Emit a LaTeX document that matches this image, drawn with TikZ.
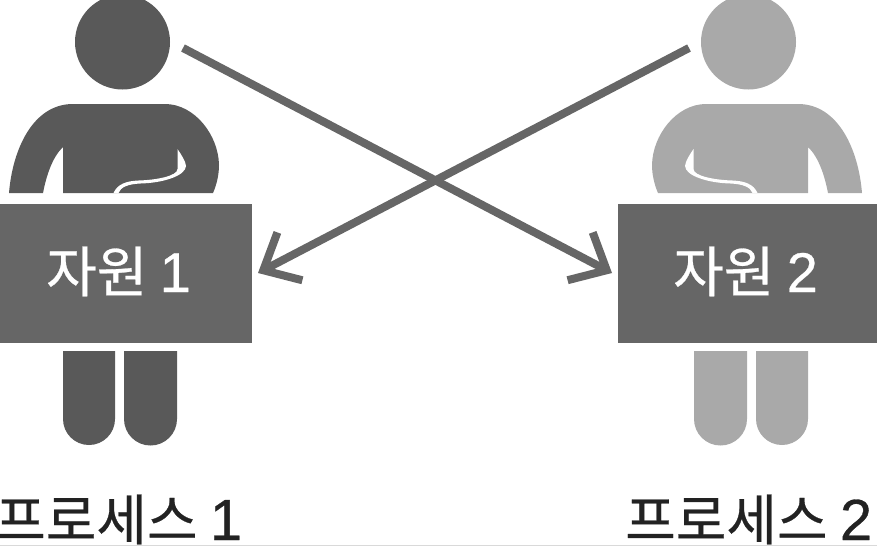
\documentclass[tikz,border=0pt]{standalone}
\usepackage{fontspec}
\usetikzlibrary{arrows.meta}
\newfontfamily\krfont[FakeBold=0.5]{Noto Sans CJK KR}
\newfontfamily\digitfont[FakeBold=0.5]{Liberation Sans}
\definecolor{boxgray}{HTML}{666666}
\definecolor{pone}{HTML}{595959}
\definecolor{ptwo}{HTML}{A9A9A9}
\definecolor{labeldark}{HTML}{222222}
\newcommand{\resdigit}[1]{{\digitfont\fontsize{56}{56}\selectfont #1}}
\newcommand{\procdigit}[1]{{\digitfont\fontsize{58}{58}\selectfont #1}}
\tikzset{
  person/.pic={
    \fill (-49.5,104) -- (42.5,104)
      .. controls (72,104) and (96,135) .. (96.5,165)
      .. controls (96.5,175) and (94,185) .. (90.5,193)
      -- (-59.5,193) -- (-59.5,147)
      .. controls (-70,157) and (-76,175) .. (-79.5,193)
      -- (-113.5,193) .. controls (-110,150) and (-90,104) .. (-49.5,104) -- cycle;
    \fill[white] (55,149) .. controls (59,155) and (63,161) .. (63.5,166)
      .. controls (63,176) and (40,183) .. (18,183.5)
      .. controls (6,184) and (-2,187) .. (-4,193) -- (-9,193)
      .. controls (-5,184) and (4,181) .. (16,180.5)
      .. controls (34,180) and (55,176) .. (55,169) -- cycle;
    \fill (-59.5,351) -- (-7.5,351) -- (-7.5,419) arc[start angle=0,end angle=180,radius=26] -- cycle;
    \fill (1.5,351) -- (54.5,351) -- (54.5,419) arc[start angle=0,end angle=180,radius=26.5] -- cycle;
  },
  headdisc/.style={circle,minimum size=95pt,inner sep=0pt,outer sep=0pt},
  resbox/.style={rectangle,fill=boxgray,inner sep=0pt,outer sep=0pt,minimum height=139pt,minimum width=260pt},
  restext/.style={text=white,inner sep=0pt,anchor=base west,font=\krfont\fontsize{55}{55}\selectfont},
  proclabel/.style={text=labeldark,inner sep=0pt,anchor=base west,font=\krfont\fontsize{55}{55}\selectfont},
  flow/.style={draw=boxgray,line width=8pt,-{Straight Barb[length=30pt,width=54pt,line width=8pt]}},
  x=1pt,y=-1pt
}
\begin{document}
\begin{tikzpicture}
\useasboundingbox (0,0) rectangle (877,546);
\clip (0,0) rectangle (877,546);
\pic[fill=pone] at (122.5,0) {person};
\pic[fill=ptwo,xscale=-1] at (748.5,0) {person};
\node[headdisc,fill=pone] (head1) at (122.5,42) {};
\node[headdisc,fill=ptwo] (head2) at (748.5,42) {};
\node[resbox] (res1) at (122,273) {};
\node[resbox] (res2) at (748,273) {};
\node[restext] (res1t) at (46,292) {자원 \resdigit{1}};
\node[restext] (res2t) at (673,292) {자원 \resdigit{2}};
\node[proclabel] (proc1) at (-5,540) {프로세스 \procdigit{1}};
\node[proclabel] (proc2) at (625,540) {프로세스 \procdigit{2}};
\coordinate (s1) at (183,48);
\coordinate (e1) at (612,273);
\coordinate (s2) at (689,48);
\coordinate (e2) at (258,273);
\draw[flow] (s1) -- (e1);
\draw[flow] (s2) -- (e2);
\coordinate (ruleL) at (0,545.5);
\coordinate (ruleR) at (877,545.5);
\draw[black!15,line width=1pt] (ruleL) -- (ruleR);
\end{tikzpicture}
\end{document}
